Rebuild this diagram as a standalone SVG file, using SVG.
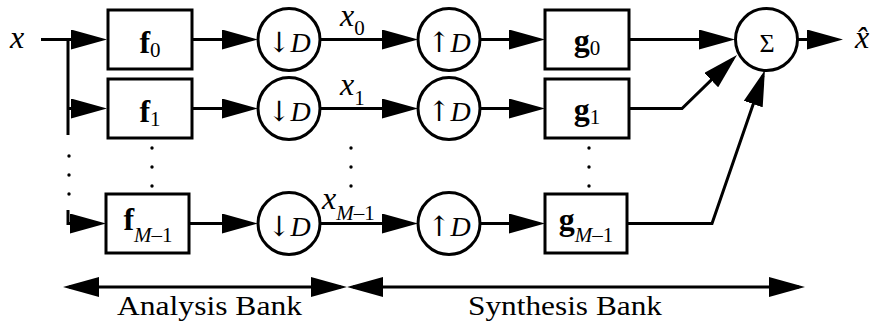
<svg xmlns="http://www.w3.org/2000/svg" width="872" height="327" viewBox="0 0 872 327">
<defs>
<marker id="ah" markerUnits="userSpaceOnUse" markerWidth="37" markerHeight="20" refX="30" refY="10" orient="auto-start-reverse" viewBox="0 0 37 20">
<path d="M0,0 L36,10 L0,20 Z" fill="#000" stroke="none"/>
</marker>
</defs>
<g id="connectors" fill="none" stroke="#000" stroke-width="3" marker-end="url(#ah)">
<path d="M41,39.5 H101"/>
<path d="M68,39.5 V135" marker-end="none"/>
<path d="M68,108.5 H101"/>
<path d="M68,210 V223.5 H100"/>
<path d="M192,39.5 H252"/>
<path d="M192,108.5 H252"/>
<path d="M189,223.5 H252"/>
<path d="M320,39.5 H412"/>
<path d="M320,108.5 H412"/>
<path d="M320,223.5 H412"/>
<path d="M480,39.5 H539"/>
<path d="M480,108.5 H539"/>
<path d="M480,223.5 H539"/>
<path d="M629,39.5 H729"/>
<path d="M629,108.5 H682 L732.7,59.2"/>
<path d="M627,223.5 H712 L763,75.7"/>
<path d="M798,39.5 H837"/>
<path d="M69,287 H341" marker-start="url(#ah)"/>
<path d="M353,287 H799" marker-start="url(#ah)"/>
</g>
<g id="dots" fill="#000">
<circle cx="69" cy="156" r="1.7"/><circle cx="69" cy="175" r="1.7"/><circle cx="69" cy="194" r="1.7"/>
<circle cx="152" cy="148" r="1.7"/><circle cx="152" cy="167" r="1.7"/><circle cx="152" cy="186" r="1.7"/>
<circle cx="351" cy="148" r="1.7"/><circle cx="351" cy="167" r="1.7"/><circle cx="351" cy="186" r="1.7"/>
<circle cx="589" cy="148" r="1.7"/><circle cx="589" cy="167" r="1.7"/><circle cx="589" cy="186" r="1.7"/>
</g>
<g id="input"><text font-family="Liberation Serif" font-size="32" font-style="italic" x="10" y="48">x</text></g>
<g id="f0" stroke="#000" stroke-width="3" fill="#fff"><rect x="108" y="10" width="84" height="59"/><text stroke="none" fill="#000" font-family="Liberation Serif" font-size="32" x="150" y="53" text-anchor="middle"><tspan font-weight="bold">f</tspan><tspan font-size="21" dy="4">0</tspan></text></g>
<g id="f1" stroke="#000" stroke-width="3" fill="#fff"><rect x="108" y="79" width="84" height="59"/><text stroke="none" fill="#000" font-family="Liberation Serif" font-size="32" x="150" y="122" text-anchor="middle"><tspan font-weight="bold">f</tspan><tspan font-size="21" dy="4">1</tspan></text></g>
<g id="fM" stroke="#000" stroke-width="3" fill="#fff"><rect x="106" y="194" width="83" height="59"/><text stroke="none" fill="#000" font-family="Liberation Serif" font-size="32" x="148" y="230" text-anchor="middle"><tspan font-weight="bold">f</tspan><tspan font-size="21" font-style="italic" dy="12">M</tspan><tspan font-size="21">&#8211;1</tspan></text></g>
<g id="down0" stroke="#000" stroke-width="3" fill="#fff"><circle cx="289" cy="39.5" r="31"/><text stroke="none" fill="#000" font-family="Liberation Serif" font-size="28" x="289" y="52" text-anchor="middle"><tspan font-family="DejaVu Serif">&#8595;</tspan><tspan font-style="italic">D</tspan></text></g>
<g id="down1" stroke="#000" stroke-width="3" fill="#fff"><circle cx="289" cy="108.5" r="31"/><text stroke="none" fill="#000" font-family="Liberation Serif" font-size="28" x="289" y="121" text-anchor="middle"><tspan font-family="DejaVu Serif">&#8595;</tspan><tspan font-style="italic">D</tspan></text></g>
<g id="downM" stroke="#000" stroke-width="3" fill="#fff"><circle cx="289" cy="223.5" r="31"/><text stroke="none" fill="#000" font-family="Liberation Serif" font-size="28" x="289" y="236" text-anchor="middle"><tspan font-family="DejaVu Serif">&#8595;</tspan><tspan font-style="italic">D</tspan></text></g>
<g id="up0" stroke="#000" stroke-width="3" fill="#fff"><circle cx="449" cy="39.5" r="31"/><text stroke="none" fill="#000" font-family="Liberation Serif" font-size="28" x="449" y="52" text-anchor="middle"><tspan font-family="DejaVu Serif">&#8593;</tspan><tspan font-style="italic">D</tspan></text></g>
<g id="up1" stroke="#000" stroke-width="3" fill="#fff"><circle cx="449" cy="108.5" r="31"/><text stroke="none" fill="#000" font-family="Liberation Serif" font-size="28" x="449" y="121" text-anchor="middle"><tspan font-family="DejaVu Serif">&#8593;</tspan><tspan font-style="italic">D</tspan></text></g>
<g id="upM" stroke="#000" stroke-width="3" fill="#fff"><circle cx="449" cy="223.5" r="31"/><text stroke="none" fill="#000" font-family="Liberation Serif" font-size="28" x="449" y="236" text-anchor="middle"><tspan font-family="DejaVu Serif">&#8593;</tspan><tspan font-style="italic">D</tspan></text></g>
<g id="lx0"><text font-family="Liberation Serif" font-size="32" font-style="italic" x="340" y="26">x<tspan font-size="21" font-style="normal" dy="9">0</tspan></text></g>
<g id="lx1"><text font-family="Liberation Serif" font-size="32" font-style="italic" x="340" y="95">x<tspan font-size="21" font-style="normal" dy="10">1</tspan></text></g>
<g id="lxM"><text font-family="Liberation Serif" font-size="32" font-style="italic" x="322" y="209">x<tspan font-size="21" dy="11">M</tspan><tspan font-size="21" font-style="normal">&#8211;1</tspan></text></g>
<g id="g0" stroke="#000" stroke-width="3" fill="#fff"><rect x="545" y="10" width="84" height="59"/><text stroke="none" fill="#000" font-family="Liberation Serif" font-size="32" x="587" y="51" text-anchor="middle"><tspan font-weight="bold">g</tspan><tspan font-size="21" dy="4">0</tspan></text></g>
<g id="g1" stroke="#000" stroke-width="3" fill="#fff"><rect x="545" y="79" width="84" height="59"/><text stroke="none" fill="#000" font-family="Liberation Serif" font-size="32" x="587" y="120" text-anchor="middle"><tspan font-weight="bold">g</tspan><tspan font-size="21" dy="4">1</tspan></text></g>
<g id="gM" stroke="#000" stroke-width="3" fill="#fff"><rect x="545" y="194" width="82" height="59"/><text stroke="none" fill="#000" font-family="Liberation Serif" font-size="32" x="586" y="230" text-anchor="middle"><tspan font-weight="bold">g</tspan><tspan font-size="21" font-style="italic" dy="12">M</tspan><tspan font-size="21">&#8211;1</tspan></text></g>
<g id="sum" stroke="#000" stroke-width="3" fill="#fff"><circle cx="766.5" cy="39.5" r="31"/><text stroke="none" fill="#000" font-family="Liberation Serif" font-size="26" x="767" y="52" text-anchor="middle">&#931;</text></g>
<g id="output"><text font-family="Liberation Serif" font-size="32" font-style="italic" x="855" y="48">x&#770;</text></g>
<g id="captions">
<text font-family="Liberation Serif" font-size="28" x="117" y="315" textLength="185" lengthAdjust="spacingAndGlyphs">Analysis Bank</text>
<text font-family="Liberation Serif" font-size="28" x="468" y="315" textLength="194" lengthAdjust="spacingAndGlyphs">Synthesis Bank</text>
</g>
</svg>
